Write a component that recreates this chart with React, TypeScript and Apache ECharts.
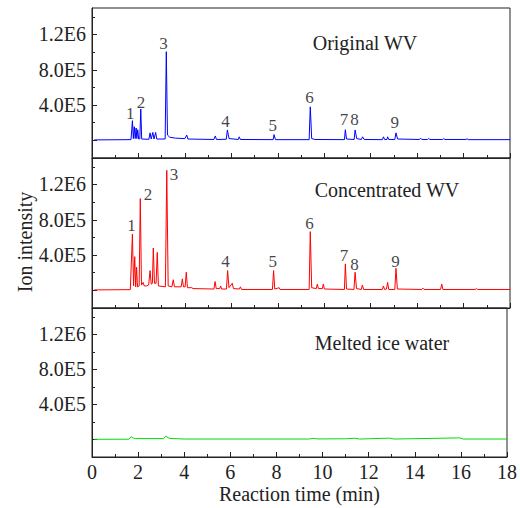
import React, { useEffect, useRef } from 'react';
import * as echarts from 'echarts';

const FONT = "'Liberation Serif', 'Times New Roman', serif";
const AXIS_COLOR = '#222';

const yLabelValues = [400000, 800000, 1200000];
const yLabelTexts = ['4.0E5', '8.0E5', '1.2E6'];
const yMajorTicks = [0, 400000, 800000, 1200000];
const yMinorTicks = [200000, 600000, 1000000, 1400000];

const panelTitles = ['Original WV', 'Concentrated WV', 'Melted ice water'];
const panelColors = ['#0000ff', '#ff0000', '#00dd00'];

// [time (min), ion intensity]
const originalWV: [number, number][] = [
  [0.1, 5e3], [1.68, 8e3], [1.74, 2.23e5], [1.78, 2e4], [1.82, 1.55e5], [1.86, 2e4],
  [1.9, 1.4e5], [1.93, 2e4], [1.97, 1.2e5], [2.01, 1.5e4], [2.06, 1.8e4], [2.1, 3.55e5],
  [2.14, 1.5e4], [2.45, 1.2e4], [2.5, 8.5e4], [2.55, 1.5e4], [2.62, 9e4], [2.67, 1.5e4],
  [2.74, 9e4], [2.79, 1.5e4], [3.15, 1.5e4], [3.2, 1.005e6], [3.25, 6e4], [3.35, 3.5e4],
  [3.6, 2.5e4], [4.0, 2e4], [4.08, 6e4], [4.13, 1.5e4], [5.25, 1e4], [5.31, 5e4],
  [5.36, 1e4], [5.78, 1.2e4], [5.83, 1.18e5], [5.9, 2e4], [6.3, 1e4], [6.34, 4e4],
  [6.39, 1e4], [7.8, 8e3], [7.84, 6.5e4], [7.9, 8e3], [9.35, 8e3], [9.4, 3.8e5],
  [9.46, 2e4], [9.6, 1e4], [10.87, 8e3], [10.91, 1.2e5], [10.96, 1.5e4], [11.29, 1e4],
  [11.33, 1.18e5], [11.4, 2e4], [11.6, 1e4], [11.65, 4e4], [11.72, 1e4], [12.5, 8e3],
  [12.55, 4e4], [12.6, 1e4], [12.7, 1e4], [12.73, 4e4], [12.78, 1e4], [13.04, 1e4],
  [13.09, 8.5e4], [13.16, 1.5e4], [14.1, 1e4], [14.15, 2.5e4], [14.2, 1e4], [14.45, 1e4],
  [14.5, 2.2e4], [14.55, 1e4], [15.1, 1e4], [15.15, 2e4], [15.2, 1e4], [16.1, 1e4],
  [16.15, 1.8e4], [16.2, 8e3], [18, 8e3],
];

const concentratedWV: [number, number][] = [
  [0.1, 5e3], [1.65, 8e3], [1.74, 6.38e5], [1.79, 5e4], [1.84, 3.82e5], [1.88, 4e4],
  [1.92, 2.62e5], [1.96, 4e4], [2.03, 5e4], [2.08, 1.04e6], [2.13, 6e4], [2.2, 9e4],
  [2.25, 5e4], [2.35, 5e4], [2.44, 6e4], [2.5, 2.24e5], [2.55, 7e4], [2.6, 8e4],
  [2.64, 4.8e5], [2.69, 8e4], [2.76, 8e4], [2.81, 4.3e5], [2.86, 5e4], [3.16, 4e4],
  [3.22, 1.36e6], [3.28, 5e4], [3.44, 4e4], [3.5, 1.2e5], [3.55, 4e4], [3.84, 4e4],
  [3.89, 1.3e5], [3.94, 4e4], [4.01, 4e4], [4.06, 2.05e5], [4.11, 3e4], [4.3, 3e4],
  [4.35, 2e4], [5.25, 1.5e4], [5.3, 1e5], [5.35, 2e4], [5.5, 2e4], [5.54, 5e4],
  [5.58, 1.5e4], [5.79, 1.5e4], [5.84, 2.24e5], [5.9, 3e4], [6.04, 8e4], [6.09, 2e4],
  [6.35, 1.5e4], [6.39, 4e4], [6.44, 1e4], [7.77, 1e4], [7.82, 2.24e5], [7.87, 1.5e4],
  [8.06, 3e4], [8.1, 1e4], [9.35, 1e4], [9.4, 6.65e5], [9.46, 3e4], [9.66, 2e4],
  [9.7, 7e4], [9.75, 2e4], [9.92, 2e4], [9.96, 7e4], [10.01, 1.5e4], [10.87, 1e4],
  [10.91, 3.0e5], [10.96, 1.5e4], [11.28, 1e4], [11.33, 2.05e5], [11.39, 2e4], [11.6, 1e4],
  [11.64, 6e4], [11.7, 1e4], [12.5, 1e4], [12.55, 5e4], [12.6, 1e4], [12.68, 1.5e4],
  [12.73, 9e4], [12.78, 1e4], [13.04, 1e4], [13.09, 2.5e5], [13.15, 1.5e4], [14.2, 1e4],
  [14.25, 2.5e4], [14.3, 1e4], [15.01, 1e4], [15.06, 7e4], [15.11, 1e4], [16.5, 1e4],
  [16.55, 2e4], [16.6, 1e4], [18, 1e4],
];

const meltedIceWater: [number, number][] = [
  [0.1, 2e3], [1.6, 3e3], [1.7, 3.2e4], [1.8, 1.5e4], [1.9, 1e4], [3.1, 1e4], [3.2, 3.8e4],
  [3.35, 1.2e4], [4.0, 5e3], [9.4, 5e3], [9.6, 1.2e4], [9.8, 6e3], [11.0, 8e3], [11.4, 1.4e4],
  [11.6, 5e3], [12.9, 1.5e4], [13.1, 5e3], [15.95, 1.8e4], [16.1, 5e3], [18, 5e3],
];

const peakNames = ['1', '2', '3', '4', '5', '6', '7', '8', '9'];
const originalPeakTimes = [1.67, 2.13, 3.1, 5.77, 7.81, 9.39, 10.87, 11.33, 13.06];
const originalPeakLabelY = [2.99e5, 4.23e5, 1.087e6, 2.12e5, 1.67e5, 4.79e5, 2.34e5, 2.34e5, 1.97e5];
const concPeakTimes = [1.72, 2.43, 3.55, 5.77, 7.81, 9.39, 10.87, 11.33, 13.09];
const concPeakLabelY = [7.32e5, 1.083e6, 1.31e6, 3.25e5, 3.19e5, 7.51e5, 3.93e5, 2.88e5, 3.25e5];

const seriesData = [originalWV, concentratedWV, meltedIceWater];
const peakSets: ([number, number, string][])[] = [
  originalPeakTimes.map((t, k) => [t, originalPeakLabelY[k], peakNames[k]]),
  concPeakTimes.map((t, k) => [t, concPeakLabelY[k], peakNames[k]]),
  [],
];

const gridTops = [8, 158, 308];
const gridHeights = [150, 150, 149];
const titlePos = [
  [365, 43],
  [387, 190],
  [382, 343],
];

export default function App() {
  const ref = useRef<HTMLDivElement>(null);
  useEffect(() => {
    if (!ref.current) return;
    const chart = echarts.init(ref.current, undefined, { renderer: 'svg' });
    const lineStyle = { color: AXIS_COLOR, width: 1 };
    const grid: any[] = [];
    const xAxis: any[] = [];
    const yAxis: any[] = [];
    const series: any[] = [];
    const graphic: any[] = [];
    for (let i = 0; i < 3; i++) {
      grid.push({
        left: 92, right: 10, top: gridTops[i], height: gridHeights[i],
        show: true, borderColor: AXIS_COLOR, borderWidth: 1, backgroundColor: 'transparent',
      });
      xAxis.push({
        type: 'value', gridIndex: i, min: 0, max: 18, interval: 2,
        axisLine: { show: true, onZero: false, lineStyle },
        axisTick: { show: true, inside: true, length: 5, lineStyle },
        minorTick: { show: true, splitNumber: 2, length: 3, lineStyle },
        splitLine: { show: false }, minorSplitLine: { show: false },
        axisLabel: { show: i === 2, margin: 5, fontSize: 20, color: AXIS_COLOR, fontFamily: FONT },
        name: i === 2 ? 'Reaction time (min)' : '',
        nameLocation: 'middle', nameGap: 27,
        nameTextStyle: { fontSize: 20, color: AXIS_COLOR, fontFamily: FONT },
      });
      yAxis.push({
        type: 'value', gridIndex: i, min: -200000, max: 1500000, position: 'left',
        axisLine: { show: true, onZero: false, lineStyle },
        axisTick: { show: true, inside: true, length: 5, lineStyle, customValues: yMajorTicks },
        splitLine: { show: false },
        axisLabel: {
          show: true, customValues: yLabelValues, margin: 6, fontSize: 20, color: AXIS_COLOR, fontFamily: FONT,
          formatter: (v: number) => {
            const k = yLabelValues.indexOf(v);
            return k >= 0 ? yLabelTexts[k] : '';
          },
        },
      });
      yAxis.push({
        type: 'value', gridIndex: i, min: -200000, max: 1500000, position: 'left', offset: 0,
        axisLine: { show: false },
        axisTick: { show: true, inside: true, length: 3, lineStyle, customValues: yMinorTicks },
        splitLine: { show: false },
        axisLabel: { show: false },
      });
      series.push({
        type: 'line', xAxisIndex: i, yAxisIndex: 2 * i, data: seriesData[i],
        symbol: 'none', showSymbol: false, silent: true,
        lineStyle: { color: panelColors[i], width: 1 }, itemStyle: { color: panelColors[i] },
      });
      if (peakSets[i].length) {
        series.push({
          type: 'scatter', xAxisIndex: i, yAxisIndex: 2 * i, data: peakSets[i],
          symbolSize: 1, silent: true, itemStyle: { color: 'rgba(0,0,0,0)' },
          label: {
            show: true, position: [0, 0], align: 'center', verticalAlign: 'middle',
            formatter: (p: any) => p.value[2],
            fontSize: 17, color: '#111', fontFamily: FONT, fontWeight: 'normal',
            textBorderWidth: 0,
          },
        });
      }
      graphic.push({
        type: 'text', x: titlePos[i][0], y: titlePos[i][1],
        style: {
          text: panelTitles[i], fontSize: 20, fontFamily: FONT, fill: AXIS_COLOR,
          textAlign: 'center', textVerticalAlign: 'middle',
        },
      });
    }
    graphic.push({
      type: 'text', x: 25, y: 242, rotation: Math.PI / 2,
      style: {
        text: 'Ion intensity', fontSize: 20, fontFamily: FONT, fill: AXIS_COLOR,
        textAlign: 'center', textVerticalAlign: 'middle',
      },
    });
    chart.setOption({
      animation: false,
      backgroundColor: '#fff',
      grid, xAxis, yAxis, series, graphic,
    });
    return () => chart.dispose();
  }, []);
  return <div ref={ref} style={{ position: 'fixed', left: 0, top: 0, width: 520, height: 508 }} />;
}
